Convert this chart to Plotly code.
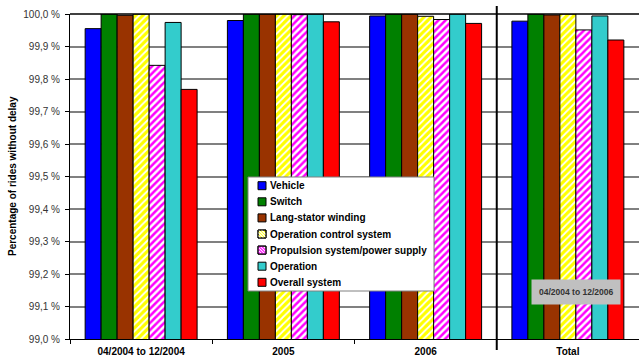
import plotly.graph_objects as go

# Periods on the x axis
periods = ["04/2004 to 12/2004", "2005", "2006", "Total"]

# Share of rides without delay (%) per subsystem
vehicle = [99.955, 99.980, 99.994, 99.978]
switch = [100.0, 100.0, 100.0, 100.0]
stator = [99.996, 100.0, 100.0, 99.997]
op_control = [100.0, 100.0, 99.993, 100.0]
propulsion = [99.842, 99.998, 99.983, 99.951]
operation = [99.974, 100.0, 100.0, 99.994]
overall = [99.768, 99.976, 99.971, 99.920]

y_ticks = [99.0, 99.1, 99.2, 99.3, 99.4, 99.5, 99.6, 99.7, 99.8, 99.9, 100.0]
y_tick_text = [f"{v:.1f}".replace(".", ",") + " %" for v in y_ticks]

series = [
    ("Vehicle", vehicle, "#0000ff", None),
    ("Switch", switch, "#008000", None),
    ("Lang-stator winding", stator, "#993300", None),
    ("Operation control system", op_control, "#ffff00", "yellow"),
    ("Propulsion system/power supply", propulsion, "#ff00ff", "pink"),
    ("Operation", operation, "#33cccc", None),
    ("Overall system", overall, "#ff0000", None),
]

L, T, R, B = 70, 14, 0, 22
W, H = 639, 361
PW, PH = W - L - R, H - T - B


def px(x):
    """Pixel column -> paper x."""
    return (x - L) / PW


def py(y):
    """Pixel row -> paper y."""
    return (H - B - y) / PH


fig = go.Figure()
for name, vals, color, hatch in series:
    marker = dict(color=color, line=dict(color="#000000", width=1))
    if hatch == "yellow":
        marker["pattern"] = dict(shape="/", bgcolor="#ffff00", fgcolor="#ffffff",
                                 size=5, solidity=0.35, fillmode="replace")
    elif hatch == "pink":
        marker["pattern"] = dict(shape="/", bgcolor="#ffffff", fgcolor="#ff00ff",
                                 size=5, solidity=0.5, fillmode="replace")
    fig.add_trace(go.Bar(name=name, x=periods, y=vals, marker=marker, showlegend=False))

fig.update_layout(
    width=W, height=H,
    margin=dict(l=L, r=R, t=T, b=B, pad=0),
    paper_bgcolor="#ffffff", plot_bgcolor="#ffffff",
    barmode="group", bargap=0.213, bargroupgap=0,
    font=dict(family="Liberation Sans, Arial, sans-serif", size=10, color="#000000"),
    showlegend=False,
)

fig.update_xaxes(
    type="category", range=[-0.5, 3.5],
    tickson="boundaries", ticks="outside", ticklen=4, tickcolor="#000000",
    showline=True, linecolor="#000000", linewidth=1,
    showgrid=False,
    tickfont=dict(size=10, color="#000000"),
    tickvals=periods, ticktext=[f"<b>{p}</b>" for p in periods],
    ticklabelstandoff=3,
)

fig.update_yaxes(
    range=[99.0, 100.0], tickvals=y_ticks, ticktext=y_tick_text,
    ticks="outside", ticklen=4, tickcolor="#000000",
    showline=True, linecolor="#000000", linewidth=1,
    showgrid=True, gridcolor="#808080", gridwidth=1.5,
    tickfont=dict(size=10, color="#333333"),
    ticklabelstandoff=3,
    zeroline=False,
)

# Top frame line and separator between years and total
fig.add_shape(type="line", xref="paper", yref="paper", x0=0, x1=1, y0=1, y1=1,
              line=dict(color="#000000", width=1.5))
fig.add_shape(type="line", xref="x", yref="paper", x0=2.5, x1=2.5,
              y0=py(350), y1=py(6),
              line=dict(color="#000000", width=2))

# Legend box
lx0, ly0, lx1, ly1 = 248, 177, 434, 291
fig.add_shape(type="rect", xref="paper", yref="paper",
              x0=px(lx0), x1=px(lx1), y0=py(ly1), y1=py(ly0),
              fillcolor="#ffffff", line=dict(color="#808080", width=1), layer="above")

step = 16.1
for i, (name, vals, color, hatch) in enumerate(series):
    cy = 185.7 + i * step
    sx0, sx1, sy0, sy1 = 258, 266, cy - 4, cy + 4
    fill = "#ffffff" if hatch == "pink" else color
    fig.add_shape(type="rect", xref="paper", yref="paper",
                  x0=px(sx0), x1=px(sx1), y0=py(sy1), y1=py(sy0),
                  fillcolor=fill, line=dict(color="#000000", width=1), layer="above")
    if hatch:
        # diagonal "/" stripes clipped to the legend swatch
        stripe = "#ffffff" if hatch == "yellow" else "#ff00ff"
        path = ""
        for d in (2.5, 5.5, 8.5, 11.5):
            if d <= 8:
                pa = (sx0, sy1 - d)
                pb = (sx0 + d, sy1)
            else:
                pa = (sx0 + d - 8, sy0)
                pb = (sx1, sy1 - (d - 8))
            path += f"M {px(pa[0]):.5f},{py(pa[1]):.5f} L {px(pb[0]):.5f},{py(pb[1]):.5f} "
        fig.add_shape(type="path", xref="paper", yref="paper", path=path,
                      line=dict(color=stripe, width=1.2), layer="above")
        fig.add_shape(type="rect", xref="paper", yref="paper",
                      x0=px(sx0), x1=px(sx1), y0=py(sy1), y1=py(sy0),
                      line=dict(color="#000000", width=1), layer="above")
    fig.add_annotation(text=f"<b>{name}</b>", xref="paper", yref="paper",
                       x=px(268), y=py(cy), xanchor="left", yanchor="middle",
                       showarrow=False, font=dict(size=10, color="#000000"))

# Axis title
fig.add_annotation(
    text="<b>Percentage of rides without delay</b>", textangle=-90,
    xref="paper", yref="paper", x=px(12.5), y=0.5, xanchor="center", yanchor="middle",
    showarrow=False, font=dict(size=10, color="#000000"),
)

# Label of the total period
fig.add_annotation(
    text="<b>04/2004 to 12/2006</b>",
    xref="paper", yref="paper", x=px(576), y=py(291.5),
    xanchor="center", yanchor="middle",
    showarrow=False, bgcolor="#c0c0c0", borderpad=7,
    font=dict(size=8.5, color="#333333"),
)

fig.write_html("out.html")
